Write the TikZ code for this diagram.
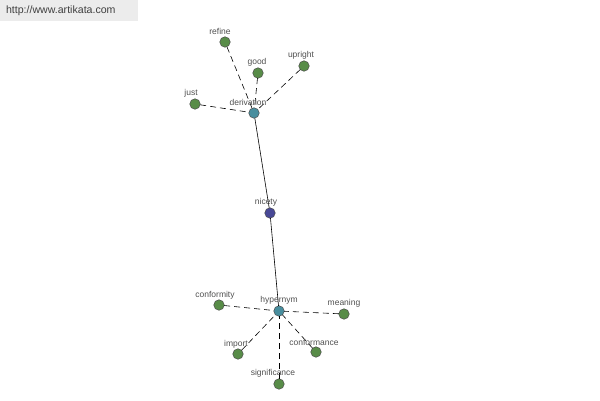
\documentclass[tikz,border=0pt]{standalone}
\usepackage{fontspec}
\setmainfont{Liberation Sans}
\usepackage{tikz}
\definecolor{leafgreen}{RGB}{88,140,72}
\definecolor{hubteal}{RGB}{72,142,158}
\definecolor{rootblue}{RGB}{72,72,150}
\definecolor{labelgrey}{RGB}{80,80,80}
\definecolor{bannergrey}{RGB}{236,236,236}

\begin{document}
\begin{tikzpicture}[x=1pt,y=-1pt,inner sep=0pt,outer sep=0pt,
  dot/.style={circle,draw=black!70,line width=0.5pt,minimum size=10.5pt},
  leaf/.style={dot,fill=leafgreen},
  hub/.style={dot,fill=hubteal},
  root/.style={dot,fill=rootblue},
  tag/.style={text=labelgrey,font=\fontsize{8.5}{10}\selectfont},
  weak/.style={dashed,dash pattern=on 6pt off 4pt,line width=0.6pt},
  strong/.style={line width=0.6pt}]
  \useasboundingbox (0,0) rectangle (600,400);
  \fill[bannergrey] (0,0) rectangle (138,21);
  \node[anchor=west,text=black!75,font=\fontsize{10.6}{12}\selectfont] (site) at (6,11) {http://www.artikata.com};
  % nodes
  \node[leaf] (refine) at (225,42) {};
  \node[leaf] (good) at (258,73) {};
  \node[leaf] (upright) at (304,66) {};
  \node[leaf] (just) at (195,104) {};
  \node[hub] (derivation) at (254,113) {};
  \node[root] (nicety) at (270,213) {};
  \node[hub] (hypernym) at (279,311) {};
  \node[leaf] (conformity) at (219,305) {};
  \node[leaf] (meaning) at (344,314) {};
  \node[leaf] (import) at (238,354) {};
  \node[leaf] (conformance) at (316,352) {};
  \node[leaf] (significance) at (279,384) {};
  % edges
  \draw[weak] (refine) -- (derivation);
  \draw[weak] (good) -- (derivation);
  \draw[weak] (upright) -- (derivation);
  \draw[weak] (just) -- (derivation);
  \draw[strong] (derivation) -- (nicety) -- (hypernym);
  \draw[weak] (conformity) -- (hypernym);
  \draw[weak] (meaning) -- (hypernym);
  \draw[weak] (import) -- (hypernym);
  \draw[weak] (conformance) -- (hypernym);
  \draw[weak] (significance) -- (hypernym);
  % labels
  \node[tag] (trefine) at (220,31) {refine};
  \node[tag] (tgood) at (257,62) {good};
  \node[tag] (tupright) at (301,55) {upright};
  \node[tag] (tjust) at (191,93) {just};
  \node[tag] (tderivation) at (248,102) {derivation};
  \node[tag] (tnicety) at (266,202) {nicety};
  \node[tag] (thypernym) at (279,300) {hypernym};
  \node[tag] (tconformity) at (215,295) {conformity};
  \node[tag] (tmeaning) at (344,303) {meaning};
  \node[tag] (timport) at (236,344) {import};
  \node[tag] (tconformance) at (314,342) {conformance};
  \node[tag] (tsignificance) at (273,373) {significance};
\end{tikzpicture}
\end{document}
